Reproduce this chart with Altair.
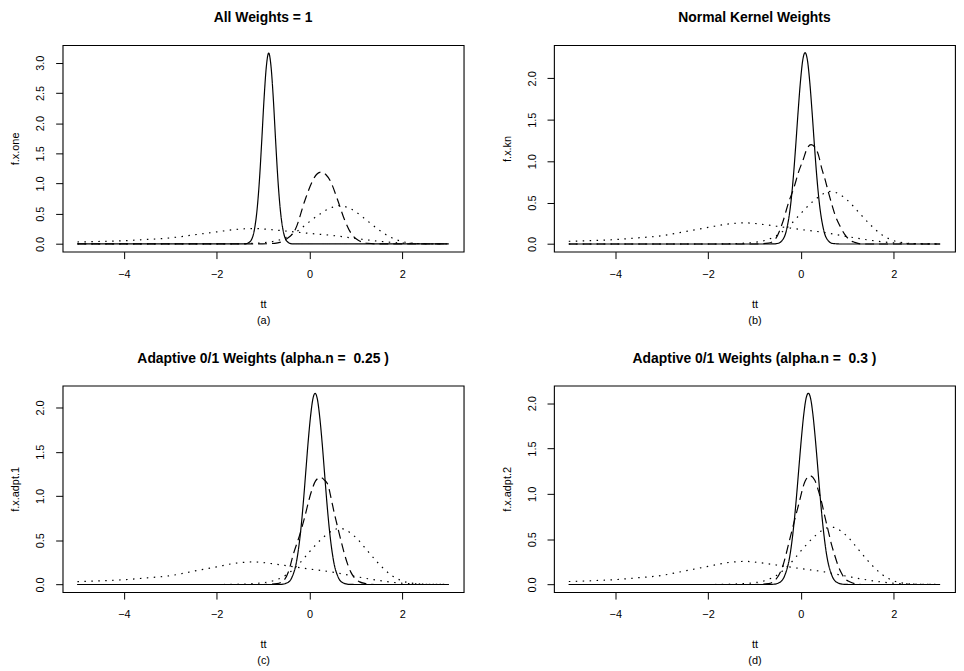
import altair as alt
import pandas as pd

# ---- data ----
# shared dotted curves (wide and narrow components)
dot_wide_x = [-5, -4.5, -4, -3.5, -3, -2.5, -2, -1.6, -1.2, -0.8, -0.4, 0, 0.5, 1.0, 1.5, 2.0, 2.5, 3.0]
dot_wide_y = [0.033, 0.042, 0.054, 0.075, 0.10, 0.15, 0.20, 0.24, 0.255, 0.235, 0.205, 0.175, 0.14, 0.09, 0.045, 0.014, 0.004, 0.001]

dot_narrow_x = [-5, -2, -1.5, -1.0, -0.5, -0.25, 0, 0.25, 0.5, 0.65, 0.8, 1.0, 1.25, 1.5, 1.75, 2.0, 2.25, 2.5, 3.0]
dot_narrow_y = [0, 0, 0.004, 0.02, 0.11, 0.22, 0.37, 0.51, 0.61, 0.635, 0.61, 0.53, 0.38, 0.23, 0.11, 0.04, 0.012, 0.003, 0.0]

# dashed curves per panel
dash_a_x = [-5, -1.2, -0.75, -0.5, -0.3, -0.1, 0.05, 0.15, 0.25, 0.35, 0.45, 0.6, 0.75, 0.9, 1.05, 1.25, 1.5, 3]
dash_a_y = [0, 0, 0.01, 0.08, 0.25, 0.72, 1.02, 1.15, 1.19, 1.15, 1.04, 0.74, 0.41, 0.17, 0.06, 0.012, 0, 0]

dash_b_x = [-5, -1.0, -0.7, -0.55, -0.4, -0.26, -0.15, -0.05, 0.05, 0.13, 0.22, 0.3, 0.38, 0.45, 0.52, 0.59, 0.66, 0.73, 0.84, 0.94, 1.05, 1.16, 1.3, 3]
dash_b_y = [0, 0, 0.01, 0.06, 0.25, 0.51, 0.68, 0.87, 1.02, 1.15, 1.20, 1.17, 1.07, 0.91, 0.78, 0.63, 0.49, 0.36, 0.22, 0.12, 0.05, 0.02, 0, 0]

dash_c_x = [-5, -1.0, -0.7, -0.55, -0.45, -0.35, -0.2, -0.13, 0.04, 0.13, 0.23, 0.32, 0.40, 0.47, 0.54, 0.61, 0.68, 0.75, 0.82, 0.89, 0.96, 1.08, 1.21, 1.4, 3]
dash_c_y = [0, 0, 0.01, 0.05, 0.15, 0.34, 0.58, 0.71, 1.05, 1.17, 1.21, 1.18, 1.12, 0.96, 0.79, 0.64, 0.49, 0.35, 0.23, 0.14, 0.08, 0.03, 0.01, 0, 0]

dash_d_x = [-5, -1.0, -0.7, -0.55, -0.4, -0.23, -0.05, 0.09, 0.2, 0.3, 0.38, 0.45, 0.52, 0.59, 0.66, 0.73, 0.80, 0.87, 0.94, 1.05, 1.16, 1.35, 3]
dash_d_y = [0, 0, 0.01, 0.05, 0.19, 0.52, 0.88, 1.14, 1.20, 1.15, 1.03, 0.90, 0.74, 0.59, 0.44, 0.32, 0.21, 0.13, 0.07, 0.03, 0.01, 0, 0]

# solid curves per panel
solid_a_x = [-5, -1.5, -1.38, -1.28, -1.18, -1.13, -1.08, -1.03, -0.98, -0.93, -0.88, -0.83, -0.78, -0.73, -0.68, -0.63, -0.58, -0.48, -0.38, -0.2, 3]
solid_a_y = [0, 0, 0.003, 0.04, 0.27, 0.57, 1.05, 1.70, 2.40, 2.94, 3.16, 2.94, 2.40, 1.70, 1.05, 0.57, 0.27, 0.04, 0.003, 0, 0]

solid_b_x = [-5, -0.8, -0.61, -0.51, -0.41, -0.31, -0.21, -0.16, -0.11, -0.06, -0.01, 0.04, 0.09, 0.14, 0.19, 0.24, 0.29, 0.34, 0.39, 0.49, 0.59, 0.69, 0.9, 3]
solid_b_y = [0, 0, 0.001, 0.006, 0.039, 0.17, 0.53, 0.83, 1.20, 1.60, 1.96, 2.22, 2.31, 2.22, 1.96, 1.60, 1.20, 0.83, 0.53, 0.17, 0.039, 0.006, 0, 0]

solid_c_x = [-5, -0.9, -0.63, -0.48, -0.38, -0.28, -0.18, -0.13, -0.08, -0.03, 0.02, 0.07, 0.12, 0.17, 0.22, 0.27, 0.32, 0.37, 0.42, 0.52, 0.62, 0.72, 0.87, 1.1, 3]
solid_c_y = [0, 0, 0.001, 0.019, 0.08, 0.26, 0.66, 0.95, 1.28, 1.61, 1.89, 2.09, 2.16, 2.09, 1.89, 1.61, 1.28, 0.95, 0.66, 0.26, 0.08, 0.019, 0.001, 0, 0]

solid_d_x = [-5, -0.85, -0.59, -0.44, -0.34, -0.24, -0.14, -0.09, -0.04, 0.01, 0.06, 0.11, 0.16, 0.21, 0.26, 0.31, 0.36, 0.41, 0.46, 0.56, 0.66, 0.76, 0.91, 1.1, 3]
solid_d_y = [0, 0, 0.003, 0.029, 0.11, 0.31, 0.72, 1.00, 1.31, 1.61, 1.87, 2.05, 2.11, 2.05, 1.87, 1.61, 1.31, 1.00, 0.72, 0.31, 0.11, 0.029, 0.003, 0, 0]

titles = ["All Weights = 1", "Normal Kernel Weights",
          "Adaptive 0/1 Weights (alpha.n =\u00a0 0.25 )", "Adaptive 0/1 Weights (alpha.n =\u00a0 0.3 )"]
ylabels = ["f.x.one", "f.x.kn", "f.x.adpt.1", "f.x.adpt.2"]
captions = ["(a)", "(b)", "(c)", "(d)"]
y_domains = [[-0.127, 3.29], [-0.092, 2.40], [-0.086, 2.246], [-0.084, 2.194]]
y_ticks = [[0, 0.5, 1.0, 1.5, 2.0, 2.5, 3.0], [0, 0.5, 1.0, 1.5, 2.0],
           [0, 0.5, 1.0, 1.5, 2.0], [0, 0.5, 1.0, 1.5, 2.0]]
x_ticks = [-4, -2, 0, 2]

solids = [(solid_a_x, solid_a_y), (solid_b_x, solid_b_y), (solid_c_x, solid_c_y), (solid_d_x, solid_d_y)]
dashes = [(dash_a_x, dash_a_y), (dash_b_x, dash_b_y), (dash_c_x, dash_c_y), (dash_d_x, dash_d_y)]

curve_names = ["dotted1", "dotted2", "dashed", "solid"]
dash_styles = [[1.5, 5.5], [1.5, 5.5], [9, 5], [1, 0]]

FONT = "Liberation Sans"


def make_panel(i):
    rows = []
    for name, (xs, ys) in zip(curve_names, [(dot_wide_x, dot_wide_y), (dot_narrow_x, dot_narrow_y), dashes[i], solids[i]]):
        for xv, yv in zip(xs, ys):
            rows.append({"curve": name, "x": xv, "y": yv})
    df = pd.DataFrame(rows)
    return alt.Chart(df).mark_line(
        interpolate="monotone", color="black", strokeWidth=1.2, clip=True
    ).encode(
        x=alt.X("x:Q",
                scale=alt.Scale(domain=[-5.32, 3.32], nice=False, zero=False),
                axis=alt.Axis(values=x_ticks, title=["tt", captions[i]], format="d",
                              labelPadding=10, titlePadding=19, titleLineHeight=16)),
        y=alt.Y("y:Q",
                scale=alt.Scale(domain=y_domains[i], nice=False, zero=False),
                axis=alt.Axis(values=y_ticks[i], format=".1f", title=ylabels[i],
                              labelAngle=270, labelAlign="center", labelBaseline="bottom",
                              labelPadding=10, titlePadding=14)),
        strokeDash=alt.StrokeDash("curve:N",
                                  scale=alt.Scale(domain=curve_names, range=dash_styles),
                                  legend=None),
    ).properties(
        width=404, height=208,
        title=alt.TitleParams(titles[i], fontSize=14, fontWeight="bold", font=FONT,
                              baseline="alphabetic", offset=9, color="black"),
    )


panels = [make_panel(i) for i in range(4)]

chart = alt.concat(
    *panels, columns=2, spacing={"row": 135, "column": 91}, bounds="flush"
).properties(
    padding={"left": 1, "top": 0, "right": 0, "bottom": 0}
).configure(
    background="white"
).configure_view(
    stroke="black", strokeWidth=1.1
).configure_axis(
    grid=False, domain=False, tickColor="black", tickSize=7, tickWidth=1,
    labelColor="black", labelFont=FONT, labelFontSize=11,
    titleColor="black", titleFont=FONT, titleFontSize=11, titleFontWeight="normal",
)

chart.save("out.html", embed_options={"renderer": "svg", "actions": False})
